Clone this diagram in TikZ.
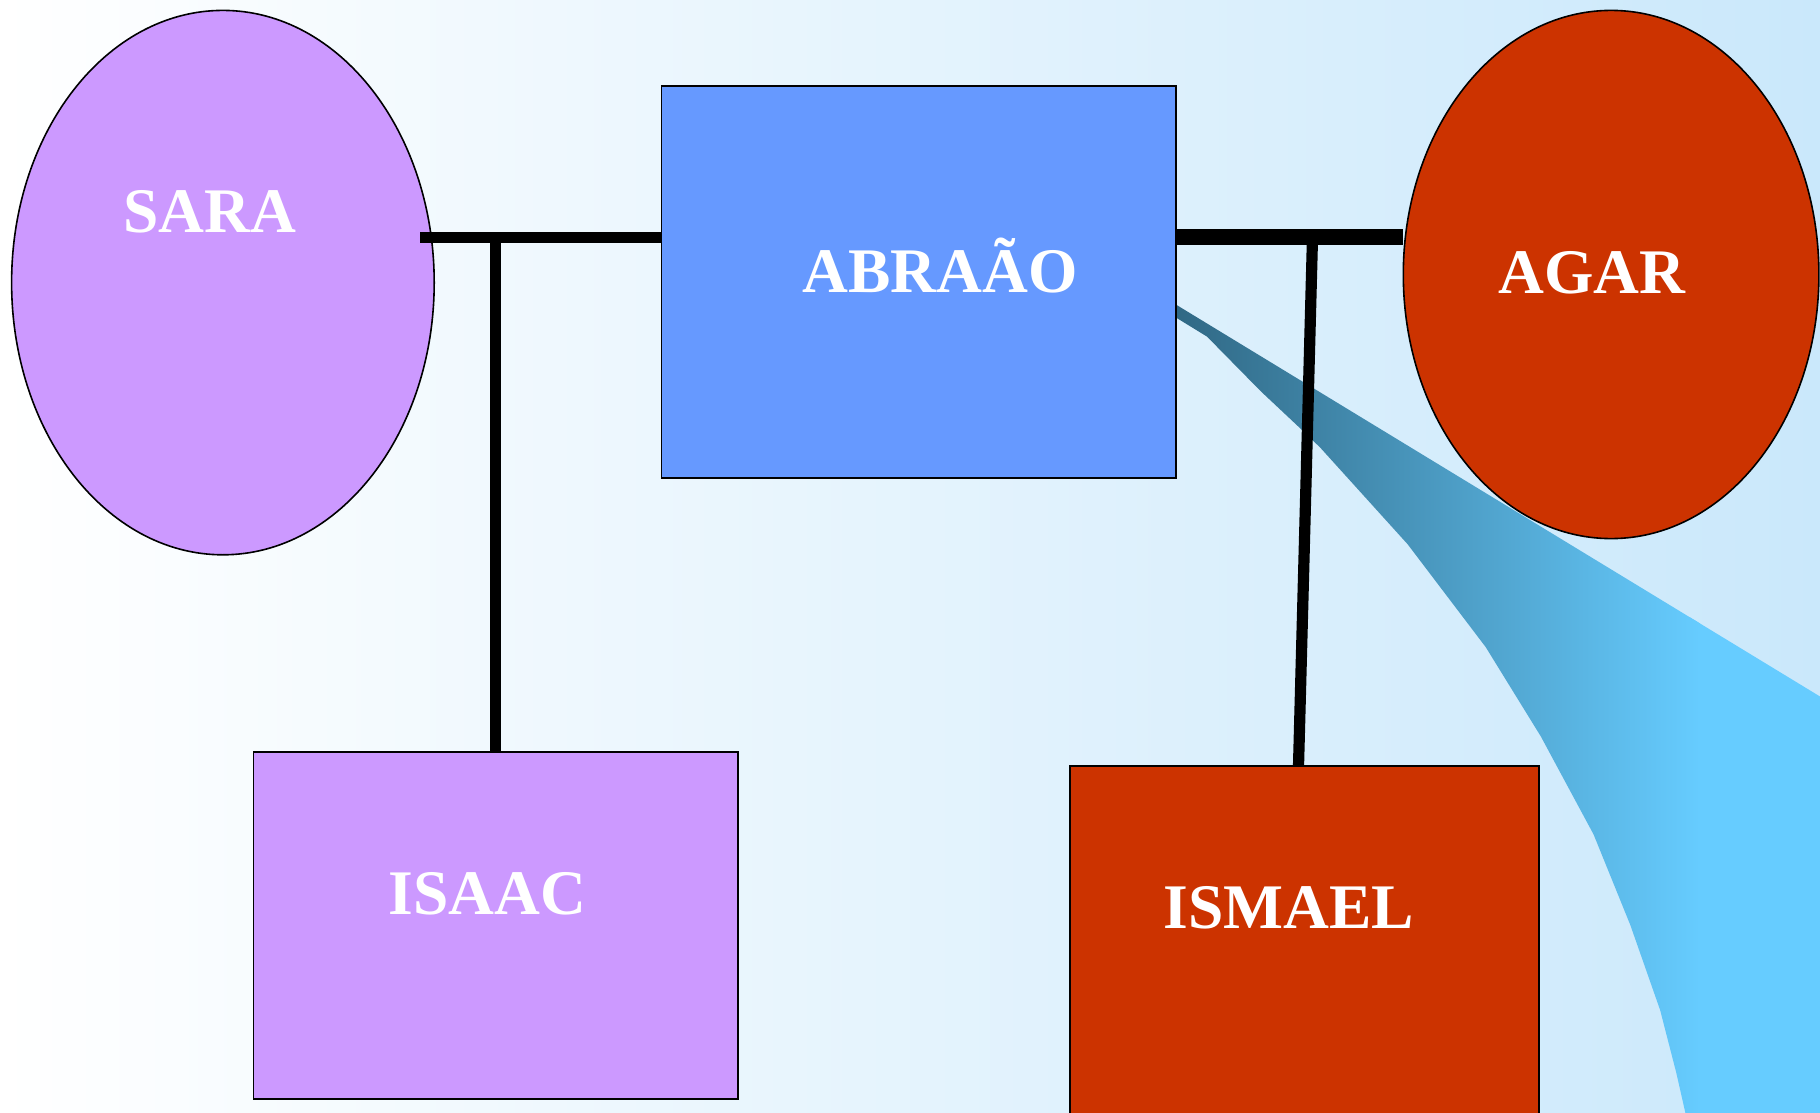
\documentclass[tikz,border=0pt]{standalone}
\usepackage{fontspec}
\setmainfont{Liberation Serif}[BoldFont={Liberation Serif Bold}]
\newfontfamily\namefont{Liberation Serif Bold}
\usetikzlibrary{shapes.geometric}
\definecolor{lilac}{HTML}{CC99FF}
\definecolor{abrblue}{HTML}{6699FF}
\definecolor{rust}{HTML}{CC3300}
\definecolor{bgright}{HTML}{CAE8FB}
\definecolor{beamdark}{HTML}{306884}
\definecolor{beamlight}{HTML}{66CCFF}
\tikzset{
  person/.style={draw=black, line width=0.8pt, inner sep=0pt, outer sep=0pt},
  oval/.style={person, ellipse},
  boxnode/.style={person, rectangle},
  personname/.style={text=white, font=\namefont\fontsize{31.75}{38}\selectfont, anchor=base, inner sep=0pt},
  bond/.style={line width=5.9pt, black},
  heavybond/.style={line width=7.8pt, black},
  descent/.style={line width=5.6pt, black}
}
\begin{document}
\begin{tikzpicture}[x=0.5pt,y=-0.5pt]
\useasboundingbox (0,0) rectangle (1820,1113);
% background
\shade[left color=white, right color=bgright] (0,0) rectangle (1820,1113);
% beam
\begin{scope}
\clip (1150,288.8) -- (1820,696.5) -- (1820,1113) -- (1685.4,1113) -- (1676.2,1072.5) -- (1660.1,1010) -- (1630.3,925) -- (1593.6,834.5) -- (1540.8,736.4) -- (1485.7,647.1) -- (1407.6,544.2) -- (1320.4,447.8) -- (1302,430) -- (1260.7,391.2) -- (1207,336.6) -- (1176.7,318) -- (1150,300.8) -- cycle;
\fill[beamlight] (1690,250) rectangle (1830,1120);
\shade[left color=beamdark, right color=beamlight] (1176,250) rectangle (1700,1120);
\end{scope}
% people
\node[oval, fill=lilac, minimum width=211.3pt, minimum height=272.2pt] (sara) at (222.9,282.6) {};
\node[oval, fill=rust, minimum width=207.8pt, minimum height=264.1pt] (agar) at (1611.1,274.5) {};
\node[boxnode, fill=abrblue, minimum width=257.1pt, minimum height=196.15pt] (abraao) at (918.7,282.05) {};
\node[boxnode, fill=lilac, minimum width=242.45pt, minimum height=173.45pt] (isaac) at (495.75,925.55) {};
\node[boxnode, fill=rust, minimum width=234.45pt, minimum height=179.45pt] (ismael) at (1304.65,945.55) {};
% names
\node[personname] (saratext) at (210,232.7) {SARA};
\node[personname] (abraaotext) at (940.3,292.7) {ABRAÃO};
\node[personname] (agartext) at (1591.9,293.5) {AGAR};
\node[personname] (isaactext) at (487.5,914.6) {ISAAC};
\node[personname] (ismaeltext) at (1288.8,928.7) {ISMAEL};
% connectors
\coordinate (sl) at (420,237.5);
\coordinate (jl) at (495.75,237.5);
\coordinate (ar) at (1403.3,237.2);
\coordinate (jr) at (1312.5,237.2);
\coordinate (jb) at (1298.5,766.1);
\draw[bond] (sl) -- (sl -| abraao.west);
\draw[descent] (jl) -- (isaac.north);
\draw[heavybond] (ar -| abraao.east) -- (ar);
\draw[descent] (jr) -- (jb |- ismael.north);
\end{tikzpicture}
\end{document}
